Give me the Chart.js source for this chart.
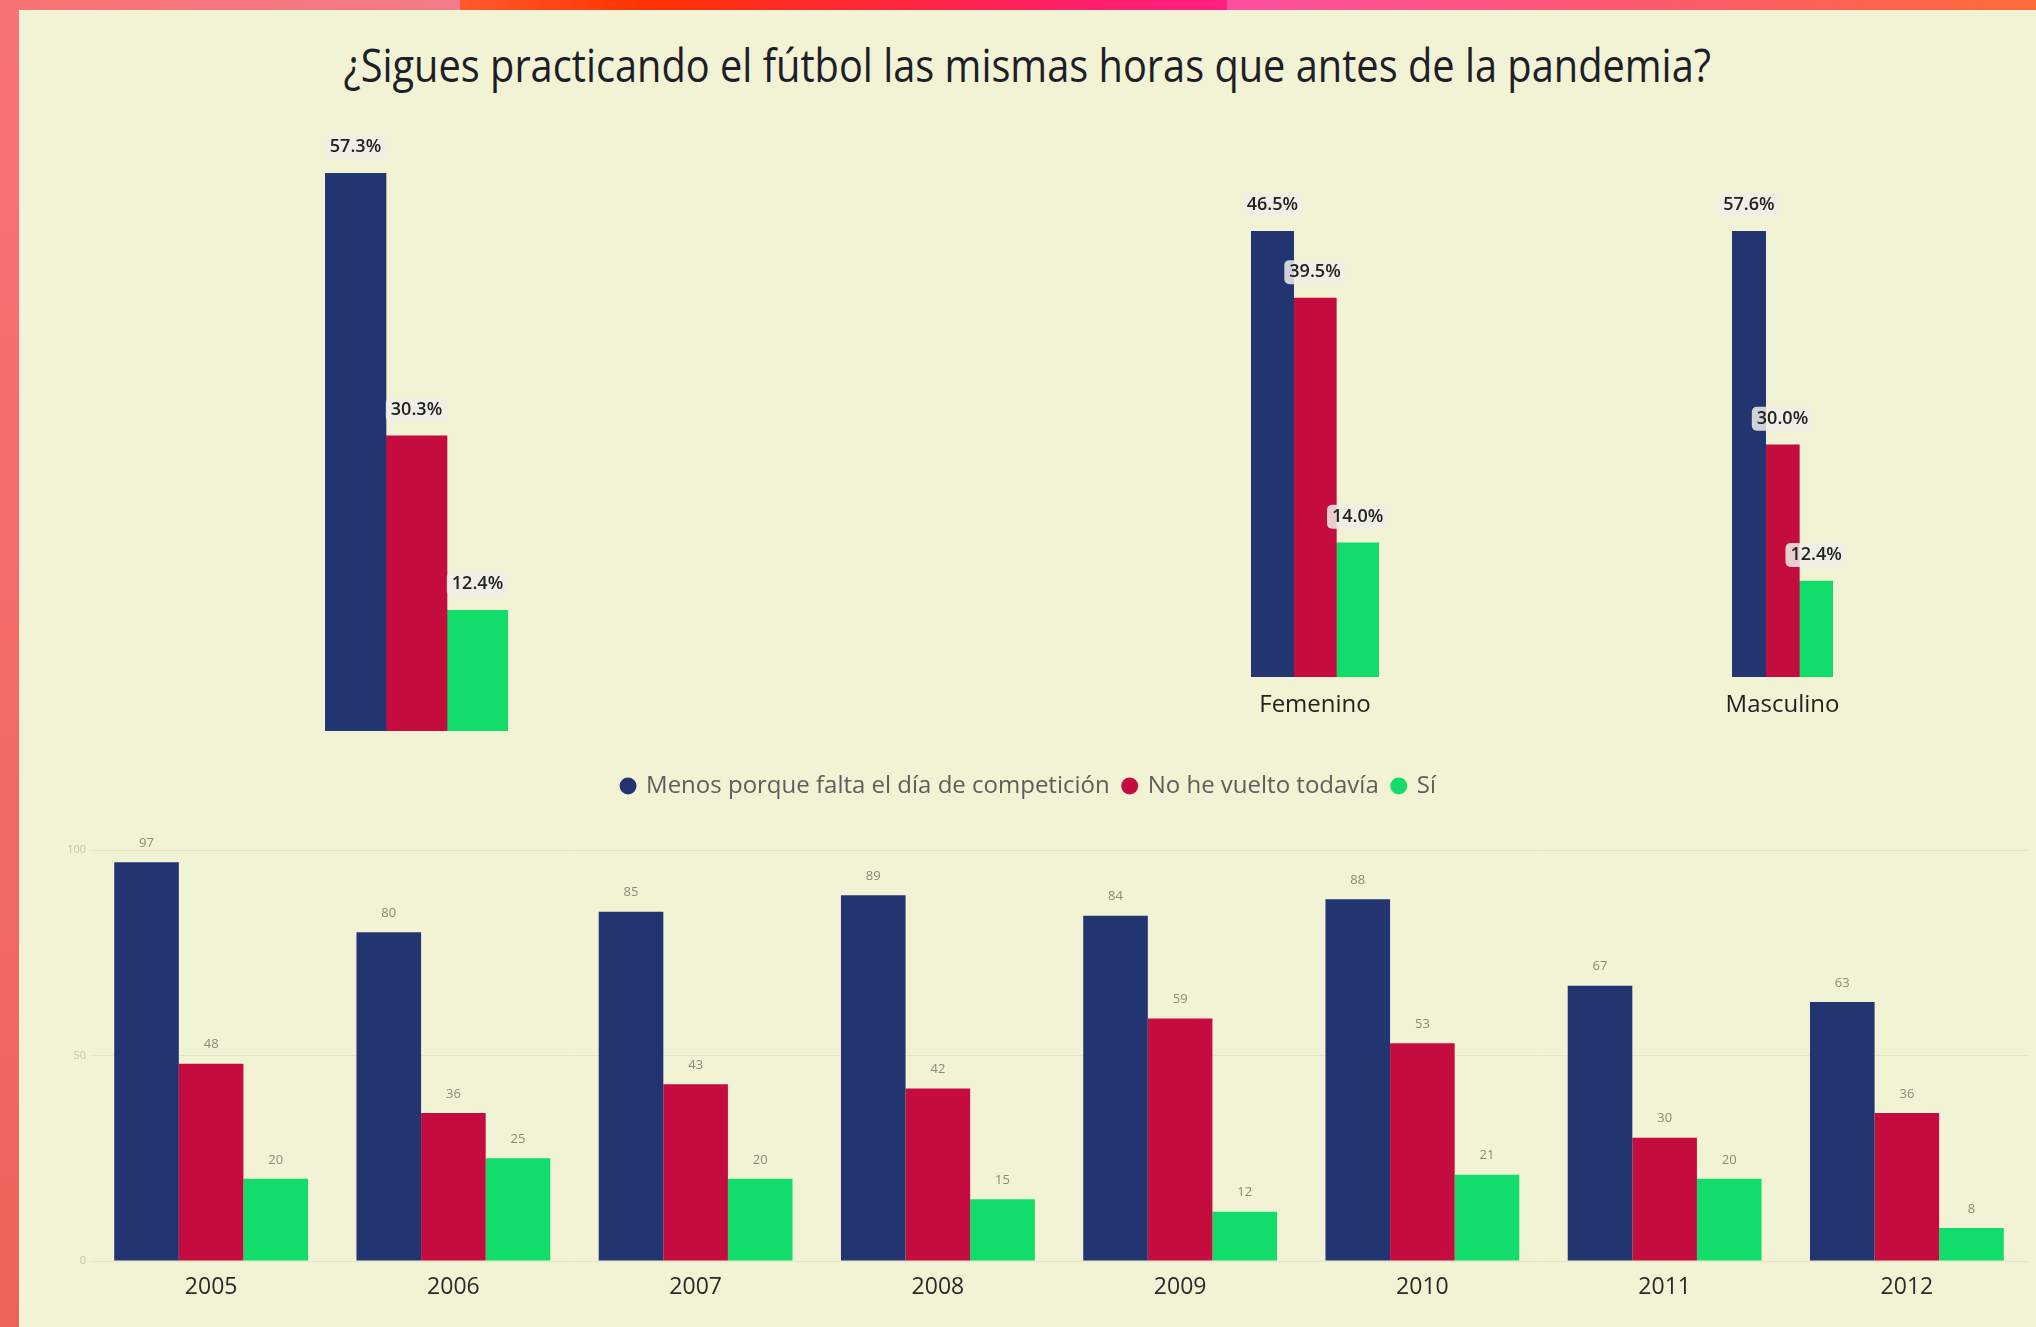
<!DOCTYPE html>
<html>
<head>
<meta charset="utf-8">
<script src="https://cdn.jsdelivr.net/npm/chart.js@4.4.1/dist/chart.umd.min.js"></script>
<style>
  html, body { margin: 0; padding: 0; }
  body {
    width: 2036px; height: 1327px; position: relative; overflow: hidden;
    background: linear-gradient(180deg, #f87373 0%, #ef625c 100%);
    font-family: "Open Sans", sans-serif;
  }
  #topstrip {
    position: absolute; left: 0; top: 0; width: 2036px; height: 10px;
    background: linear-gradient(90deg, #f87272 0px, #f47b8a 460px, #ff5a2e 460px, #ff3300 640px,
      #ff1f6e 1100px, #ff2080 1227px, #fb4fa0 1227px, #fc5875 1600px, #fb6b38 2036px);
  }
  #panel { position: absolute; left: 19px; top: 10px; right: 0; bottom: 0; background: #f2f2d4; }
  #title {
    position: absolute; left: 19px; right: 0; top: 41px; text-align: center;
    font-size: 46px; line-height: 46px; color: #1e1e28; white-space: nowrap;
  }
  #title span { display: inline-block; transform-origin: center; }
  canvas { position: absolute; }
</style>
</head>
<body>
<div id="topstrip"></div>
<div id="panel"></div>
<div id="title"><span>¿Sigues practicando el fútbol las mismas horas que antes de la pandemia?</span></div>

<canvas id="top0" width="273" height="613" style="left:280px;top:128px"></canvas>
<canvas id="top1" width="218" height="541" style="left:1206px;top:186px"></canvas>
<canvas id="top2" width="191" height="541" style="left:1687px;top:186px"></canvas>
<canvas id="years" width="2017" height="572" style="left:19px;top:755px"></canvas>

<script>
// series
const seriesNames = ["Menos porque falta el día de competición", "No he vuelto todavía", "Sí"];
const seriesColors = ["#233570", "#c40d3e", "#12dc6a"];

// top panel (%), one group per chart
const topGroups = ["", "Femenino", "Masculino"];
const menosTop = [57.3, 46.5, 57.6];
const noVueltoTop = [30.3, 39.5, 30.0];
const siTop = [12.4, 14.0, 12.4];

// bottom panel (counts per year)
const years = ["2005", "2006", "2007", "2008", "2009", "2010", "2011", "2012"];
const menosYear = [97, 80, 85, 89, 84, 88, 67, 63];
const noVueltoYear = [48, 36, 43, 42, 59, 53, 30, 36];
const siYear = [20, 25, 20, 15, 12, 21, 20, 8];
const yTicks = [0, 50, 100];

// squeeze the title to the width it has in the picture
const titleSpan = document.querySelector("#title span");
titleSpan.style.transform = "scaleX(" + (1367 / titleSpan.offsetWidth) + ")";

// value labels above the bars (drawn after datasets so they are not clipped)
const barLabels = {
  id: "barLabels",
  afterDatasetsDraw(chart, args, opts) {
    const ctx = chart.ctx;
    ctx.save();
    ctx.font = opts.font;
    ctx.textAlign = "center";
    ctx.textBaseline = "middle";
    chart.data.datasets.forEach((ds, di) => {
      chart.getDatasetMeta(di).data.forEach((bar, i) => {
        const text = opts.format(ds.data[i]);
        const cx = bar.x;
        const cy = bar.y - opts.offset;
        if (opts.boxColor) {
          const w = ctx.measureText(text).width + 10;
          ctx.fillStyle = opts.boxColor;
          ctx.beginPath();
          ctx.roundRect(cx - w / 2, cy - opts.boxH / 2, w, opts.boxH, 5);
          ctx.fill();
        }
        ctx.fillStyle = opts.color;
        ctx.fillText(text, cx, cy);
      });
    });
    ctx.restore();
  },
};

Chart.defaults.font.family = '"Open Sans", sans-serif';
Chart.defaults.animation = false;

// --- three top charts, each with its own scale ---
topGroups.forEach((group, i) => {
  const values = [menosTop[i], noVueltoTop[i], siTop[i]];
  new Chart(document.getElementById("top" + i), {
    type: "bar",
    data: {
      labels: [group],
      datasets: values.map((v, s) => ({
        label: seriesNames[s],
        data: [v],
        backgroundColor: seriesColors[s],
        categoryPercentage: 1,
        barPercentage: 1,
      })),
    },
    options: {
      responsive: false,
      layout: { padding: { top: 45, left: 45, right: 45, bottom: i === 0 ? 10 : 0 } },
      plugins: {
        legend: { display: false },
        tooltip: { enabled: false },
        barLabels: {
          font: '600 18px "Open Sans"',
          color: "#222",
          boxColor: "rgba(238,238,232,0.85)",
          boxH: 24,
          offset: 26,
          format: (v) => v.toFixed(1) + "%",
        },
      },
      scales: {
        x: {
          display: i !== 0,
          grid: { display: false, drawTicks: false },
          border: { display: false },
          ticks: { font: { size: 24 }, color: "#222", padding: 14 },
          afterFit: (scale) => { scale.height = i === 0 ? 0 : 50; },
        },
        y: { display: false, min: 0, max: Math.max(...values) },
      },
    },
    plugins: [barLabels],
  });
});

// --- bottom chart by year ---
const yearSeries = [menosYear, noVueltoYear, siYear];
const legendHeight = {
  id: "legendHeight",
  beforeInit(chart) {
    const fit = chart.legend.fit;
    chart.legend.fit = function () {
      fit.call(this);
      this.height = 90;
    };
  },
};

new Chart(document.getElementById("years"), {
  type: "bar",
  data: {
    labels: years,
    datasets: yearSeries.map((d, s) => ({
      label: seriesNames[s],
      data: d,
      backgroundColor: seriesColors[s],
      categoryPercentage: 0.8,
      barPercentage: 1,
    })),
  },
  options: {
    responsive: false,
    layout: { padding: { top: 5, left: 11, right: 8, bottom: 6 } },
    plugins: {
      legend: {
        position: "top",
        labels: {
          usePointStyle: true,
          pointStyle: "circle",
          boxWidth: 12,
          boxHeight: 12,
          color: "#5e5e5e",
          font: { size: 24 },
          padding: 14,
        },
      },
      tooltip: { enabled: false },
      barLabels: {
        font: '13px "Open Sans"',
        color: "#8a8a7a",
        offset: 19,
        format: (v) => String(v),
      },
    },
    scales: {
      x: {
        grid: { display: false, drawTicks: false },
        border: { display: false },
        ticks: { font: { size: 23 }, color: "#2a2a2a", padding: 13 },
        afterFit: (scale) => { scale.height = 60; },
      },
      y: {
        min: 0,
        max: 100,
        afterBuildTicks: (scale) => { scale.ticks = yTicks.map((v) => ({ value: v })); },
        grid: { color: "rgba(0,0,0,0.05)", drawTicks: false },
        border: { display: false },
        ticks: { font: { size: 11 }, color: "#c5c5b0", padding: 4 },
        afterFit: (scale) => { scale.width = 60; },
      },
    },
  },
  plugins: [barLabels, legendHeight],
});
</script>
</body>
</html>
